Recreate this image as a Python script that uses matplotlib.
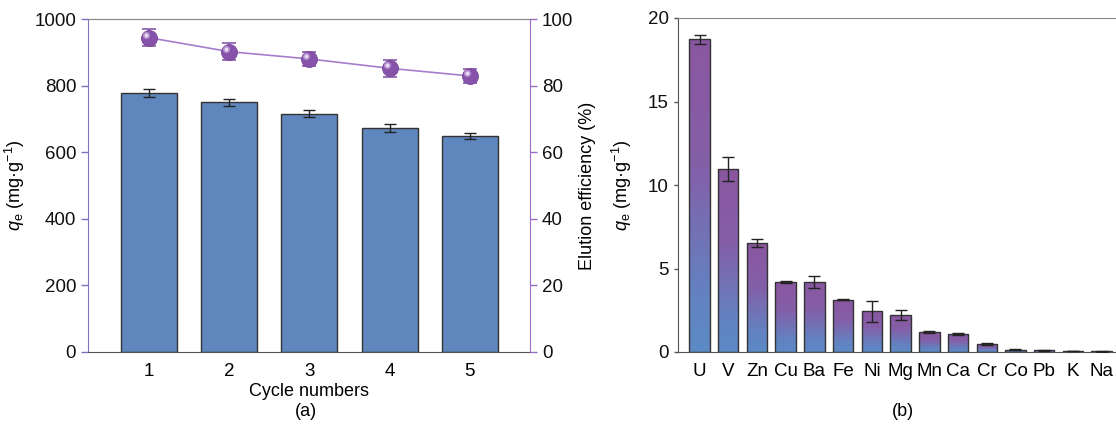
import numpy as np
import matplotlib
matplotlib.use("Agg")
import matplotlib.pyplot as plt
from matplotlib.colors import LinearSegmentedColormap
import matplotlib.transforms as mtransforms

plt.rcParams['font.family'] = ['Liberation Sans', 'DejaVu Sans']
plt.rcParams['mathtext.fontset'] = 'custom'
plt.rcParams['mathtext.rm'] = 'Liberation Sans'
plt.rcParams['mathtext.it'] = 'Liberation Sans:italic'

# ---- data panel (a) ----
cycles = [1, 2, 3, 4, 5]
qe_cycle = [778, 750, 716, 673, 649]
qe_cycle_err = [13, 10, 11, 11, 10]
elution = [94.4, 90.2, 88.0, 85.2, 82.9]
elution_err = [2.6, 2.5, 2.2, 2.5, 2.2]

# ---- data panel (b) ----
ions = ['U', 'V', 'Zn', 'Cu', 'Ba', 'Fe', 'Ni', 'Mg', 'Mn', 'Ca', 'Cr', 'Co', 'Pb', 'K', 'Na']
qe_ion = [18.72, 10.96, 6.55, 4.19, 4.20, 3.13, 2.44, 2.22, 1.18, 1.08, 0.48, 0.12, 0.10, 0.05, 0.04]
qe_ion_err = [0.25, 0.73, 0.24, 0.07, 0.34, 0.03, 0.62, 0.32, 0.07, 0.06, 0.06, 0.03, 0.03, 0.02, 0.02]

W, H = 1116, 425
fig = plt.figure(figsize=(W / 100, H / 100), dpi=100)

TICK_FS = 13.5
LAB_FS = 13
bar_blue = '#5f87bd'
spine_l = '#7b74c4'
spine_r = '#9b6cc8'

# ---------------- panel (a) ----------------
ax = fig.add_axes([88 / W, (H - 352) / H, (530 - 88) / W, (352 - 19) / H])
ax.bar(cycles, qe_cycle, width=0.7, color=bar_blue, edgecolor='#333333', linewidth=1.0, zorder=2)
ax.errorbar(cycles, qe_cycle, yerr=qe_cycle_err, fmt='none', ecolor='#222222',
            elinewidth=1.0, capsize=4.5, capthick=1.0, zorder=3)
ax.set_xlim(0.24, 5.75)
ax.set_ylim(0, 1000)
ax.set_yticks([0, 200, 400, 600, 800, 1000])
ax.set_xticks(cycles)
ax.tick_params(axis='x', length=0, labelsize=TICK_FS, pad=8)
ax.tick_params(axis='y', direction='out', length=5, width=1, colors=spine_l, labelsize=TICK_FS, labelcolor='#111111')
ax.spines['top'].set_color('#888888')
ax.spines['bottom'].set_color('#555555')
ax.spines['left'].set_color(spine_l)
ax.spines['right'].set_visible(False)
ax.set_xlabel('Cycle numbers', fontsize=LAB_FS, labelpad=2)
ax.set_ylabel(r'$q_\mathrm{e}$ (mg·g$^{-1}$)', fontsize=LAB_FS, labelpad=5)

ax2 = ax.twinx()
ax2.set_ylim(0, 100)
ax2.set_yticks([0, 20, 40, 60, 80, 100])
ax2.plot(cycles, elution, color='#a57dcc', linewidth=1.2, zorder=3)
ax2.errorbar(cycles, elution, yerr=elution_err, fmt='none', ecolor='#8a56aa',
             elinewidth=1.2, capsize=5, capthick=1.2, zorder=4)
ax2.plot(cycles, elution, linestyle='none', marker='o', markersize=11.5,
         markerfacecolor='#8652aa', markeredgecolor='#7a4a9c', markeredgewidth=0.6, zorder=5)
hl = mtransforms.offset_copy(ax2.transData, fig=fig, x=-2.2, y=2.2, units='points')
ax2.plot(cycles, elution, linestyle='none', marker='o', markersize=5,
         markerfacecolor='#c9a9e0', markeredgecolor='none', transform=hl, zorder=6, alpha=0.8)
ax2.plot(cycles, elution, linestyle='none', marker='o', markersize=2.5,
         markerfacecolor='#f3e9f8', markeredgecolor='none', transform=hl, zorder=7, alpha=0.9)
ax2.tick_params(axis='y', direction='out', length=5, width=1, colors=spine_r, labelsize=TICK_FS, labelcolor='#111111')
ax2.spines['right'].set_color(spine_r)
ax2.spines['top'].set_color('#888888')
ax2.spines['left'].set_visible(False)
ax2.spines['bottom'].set_visible(False)
ax2.set_ylabel('Elution efficiency (%)', fontsize=LAB_FS, labelpad=4)

fig.text(306 / W, 1 - 412 / H, '(a)', ha='center', va='center', fontsize=LAB_FS)

# ---------------- panel (b) ----------------
bx = fig.add_axes([677.7 / W, (H - 352) / H, (1116 - 677.7) / W, (352 - 18) / H])
xpos = np.arange(len(ions))
bars = bx.bar(xpos, qe_ion, width=0.71, color='none', edgecolor='#333333', linewidth=1.0, zorder=3)
cmap = LinearSegmentedColormap.from_list('bp', [(0.0, '#5b8bc5'), (0.2, '#6481c0'),
                                                (0.6, '#845fa8'), (1.0, '#8a57a0')])
grad = np.linspace(0, 1, 256).reshape(-1, 1)
for b in bars:
    x0, y0 = b.get_x(), b.get_y()
    w, h = b.get_width(), b.get_height()
    im = bx.imshow(grad, extent=(x0, x0 + w, y0, y0 + h), origin='lower', aspect='auto',
                   cmap=cmap, zorder=2, interpolation='bilinear')
    im.set_clip_path(b)
bx.errorbar(xpos, qe_ion, yerr=qe_ion_err, fmt='none', ecolor='#222222',
            elinewidth=1.0, capsize=4.5, capthick=1.0, zorder=4)
bx.set_xlim(-0.76, 14.5)
bx.set_ylim(0, 20)
bx.set_yticks([0, 5, 10, 15, 20])
bx.set_xticks(xpos)
bx.set_xticklabels(ions)
bx.tick_params(axis='x', length=0, labelsize=TICK_FS, pad=8)
bx.tick_params(axis='y', direction='out', length=3, width=1, colors='#555555', labelsize=TICK_FS, labelcolor='#111111')
bx.spines['right'].set_visible(False)
bx.spines['top'].set_color('#888888')
bx.spines['left'].set_color('#555555')
bx.spines['bottom'].set_color('#555555')
bx.set_ylabel(r'$q_\mathrm{e}$ (mg·g$^{-1}$)', fontsize=LAB_FS, labelpad=10)

fig.text(903 / W, 1 - 412 / H, '(b)', ha='center', va='center', fontsize=LAB_FS)

fig.savefig('out.png', dpi=100)
